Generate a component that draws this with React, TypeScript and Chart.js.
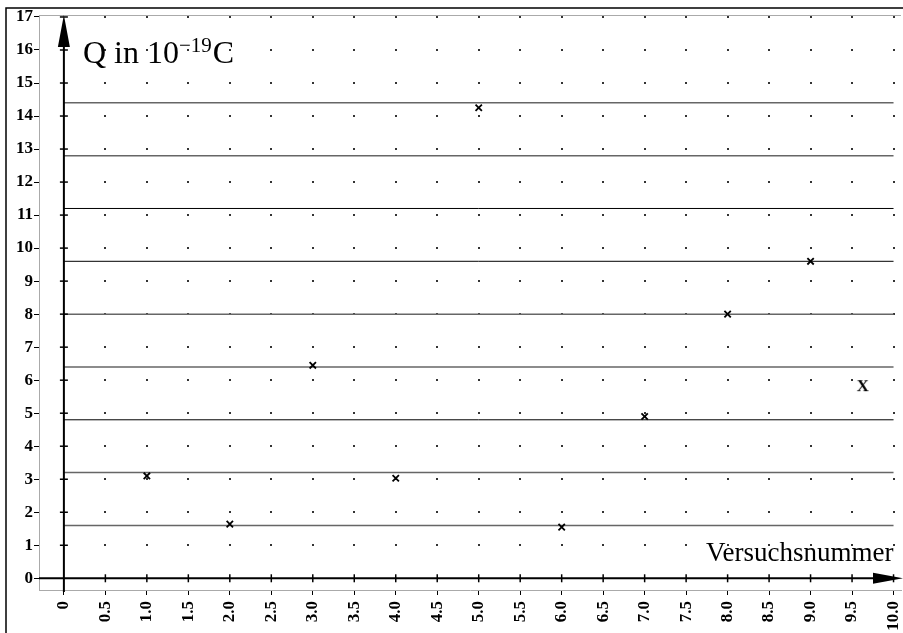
import React, { useEffect, useRef } from 'react';
import { Chart, registerables } from 'chart.js';

Chart.register(...registerables);

// ---- data ----
const trialNumbers = [1, 2, 3, 4, 5, 6, 7, 8, 9];
const chargeValues = [3.1, 1.64, 6.45, 3.03, 14.25, 1.55, 4.9, 8.0, 9.6];
const chargeLevels = [1.6, 3.2, 4.8, 6.4, 8.0, 9.6, 11.2, 12.8, 14.4];
const extraMarkX = [9.63];
const extraMarkY = [5.85];
const xTickValues = [0, 0.5, 1, 1.5, 2, 2.5, 3, 3.5, 4, 4.5, 5, 5.5, 6, 6.5, 7, 7.5, 8, 8.5, 9, 9.5, 10];
const xTickLabels = ['0', '0.5', '1.0', '1.5', '2.0', '2.5', '3.0', '3.5', '4.0', '4.5', '5.0', '5.5', '6.0', '6.5', '7.0', '7.5', '8.0', '8.5', '9.0', '9.5', '10.0'];
const yTickValues = [0, 1, 2, 3, 4, 5, 6, 7, 8, 9, 10, 11, 12, 13, 14, 15, 16, 17];
const yTickLabels = ['0', '1', '2', '3', '4', '5', '6', '7', '8', '9', '10', '11', '12', '13', '14', '15', '16', '17'];
const yTitleParts = ['Q in 10', '\u221219', 'C'];
const xTitle = 'Versuchsnummer';

// ---- styles ----
const levelColors = ['#666', '#666', '#000', '#666', '#666', '#000', '#000', '#666', '#666'];
const levelWidths = [1.5, 1.5, 1, 1.5, 1.5, 1, 1, 1.5, 1.5];
const SERIF = '"Liberation Serif", "Times New Roman", serif';

export default function App() {
  const ref = useRef<HTMLCanvasElement>(null);

  useEffect(() => {
    const canvas = ref.current;
    if (!canvas) return;

    const markCanvas = document.createElement('canvas');
    markCanvas.width = 18;
    markCanvas.height = 18;
    const mctx = markCanvas.getContext('2d')!;
    mctx.font = `bold 17px ${SERIF}`;
    mctx.textAlign = 'center';
    mctx.textBaseline = 'alphabetic';
    mctx.fillStyle = '#000';
    mctx.fillText('X', 9, 15);

    const decor = {
      id: 'decor',
      beforeDraw(chart: any) {
        const ctx = chart.ctx;
        ctx.save();
        ctx.fillStyle = '#fff';
        ctx.fillRect(0, 0, chart.width, chart.height);
        ctx.strokeStyle = '#000';
        ctx.lineWidth = 1.5;
        ctx.beginPath();
        ctx.moveTo(6, chart.height);
        ctx.lineTo(6, 8);
        ctx.lineTo(chart.width, 8);
        ctx.stroke();
        ctx.restore();
      },
      beforeDatasetsDraw(chart: any) {
        const { ctx, chartArea: a, scales } = chart;
        const x = scales.x;
        const y = scales.y;
        ctx.save();
        ctx.strokeStyle = '#aaa';
        ctx.lineWidth = 1;
        ctx.beginPath();
        ctx.moveTo(a.left, a.top + 0.5);
        ctx.lineTo(a.right, a.top + 0.5);
        ctx.stroke();
        ctx.fillStyle = '#333';
        x.ticks.forEach((tx: any) => {
          if (tx.value <= 0) return;
          y.ticks.forEach((ty: any) => {
            if (ty.value <= 0) return;
            const px = x.getPixelForValue(tx.value);
            const py = y.getPixelForValue(ty.value);
            ctx.fillRect(Math.round(px) - 1, Math.round(py) - 1, 2, 2);
          });
        });
        ctx.restore();
      },
      afterDatasetsDraw(chart: any) {
        const { ctx, chartArea: a, scales } = chart;
        const x = scales.x;
        const y = scales.y;
        const x0 = x.getPixelForValue(0);
        const y0 = y.getPixelForValue(0);
        ctx.save();
        ctx.strokeStyle = '#000';
        ctx.fillStyle = '#000';
        ctx.lineWidth = 2;
        // y axis
        ctx.beginPath();
        ctx.moveTo(x0, a.bottom + 2);
        ctx.lineTo(x0, a.top + 10);
        ctx.stroke();
        ctx.beginPath();
        ctx.moveTo(x0, a.top);
        ctx.lineTo(x0 - 6, a.top + 32);
        ctx.lineTo(x0 + 6, a.top + 32);
        ctx.closePath();
        ctx.fill();
        // x axis
        ctx.beginPath();
        ctx.moveTo(a.left, y0);
        ctx.lineTo(chart.width - 10, y0);
        ctx.stroke();
        ctx.beginPath();
        ctx.moveTo(chart.width, y0);
        ctx.lineTo(chart.width - 30, y0 - 5.5);
        ctx.lineTo(chart.width - 30, y0 + 5.5);
        ctx.closePath();
        ctx.fill();
        // cross ticks
        ctx.lineWidth = 1.5;
        y.ticks.forEach((t: any) => {
          if (t.value <= 0) return;
          const py = y.getPixelForValue(t.value);
          ctx.beginPath();
          ctx.moveTo(x0 - 4, py);
          ctx.lineTo(x0 + 4, py);
          ctx.stroke();
        });
        x.ticks.forEach((t: any) => {
          if (t.value <= 0) return;
          const px = x.getPixelForValue(t.value);
          ctx.beginPath();
          ctx.moveTo(px, y0 - 4);
          ctx.lineTo(px, y0 + 4);
          ctx.stroke();
        });
        // titles
        ctx.textBaseline = 'alphabetic';
        ctx.textAlign = 'left';
        let tx = x.getPixelForValue(0.23);
        const ty = y.getPixelForValue(15.6);
        ctx.font = `32px ${SERIF}`;
        ctx.fillText(yTitleParts[0], tx, ty);
        tx += ctx.measureText(yTitleParts[0]).width;
        ctx.font = `21px ${SERIF}`;
        ctx.fillText(yTitleParts[1], tx, ty - 11);
        tx += ctx.measureText(yTitleParts[1]).width + 1;
        ctx.font = `32px ${SERIF}`;
        ctx.fillText(yTitleParts[2], tx, ty);
        ctx.textAlign = 'right';
        ctx.font = `27px ${SERIF}`;
        ctx.fillText(xTitle, x.getPixelForValue(10), y.getPixelForValue(0.53));
        ctx.restore();
      },
    };

    const levelDatasets = chargeLevels.map((v, i) => ({
      type: 'scatter' as const,
      data: [{ x: 0, y: v }, { x: 10, y: v }],
      showLine: true,
      borderColor: levelColors[i],
      borderWidth: levelWidths[i],
      pointRadius: 0,
      order: 2,
    }));

    const chart = new Chart(canvas, {
      type: 'scatter',
      data: {
        datasets: [
          ...levelDatasets,
          {
            type: 'scatter',
            data: trialNumbers.map((t, i) => ({ x: t, y: chargeValues[i] })),
            pointStyle: 'crossRot',
            pointRadius: 4.5,
            borderColor: '#000',
            backgroundColor: '#000',
            borderWidth: 1.8,
            order: 1,
          },
          {
            type: 'scatter',
            data: extraMarkX.map((t, i) => ({ x: t, y: extraMarkY[i] })),
            pointStyle: markCanvas,
            pointRadius: 9,
            order: 1,
          },
        ] as any,
      },
      options: {
        responsive: false,
        animation: false,
        devicePixelRatio: 1,
        layout: { autoPadding: false, padding: { top: 15, right: 2, left: 0, bottom: 0 } },
        plugins: { legend: { display: false }, tooltip: { enabled: false } },
        events: [],
        scales: {
          x: {
            type: 'linear',
            min: -0.3,
            max: 10.09,
            afterBuildTicks: (s: any) => {
              s.ticks = xTickValues.map((v) => ({ value: v }));
            },
            afterFit: (s: any) => {
              s.height = 43;
              s.paddingLeft = 0;
              s.paddingRight = 0;
            },
            ticks: {
              autoSkip: false,
              minRotation: 90,
              maxRotation: 90,
              padding: 6,
              color: '#000',
              font: { family: SERIF, size: 17, weight: 'bold' },
              callback: (_v: any, i: number) => xTickLabels[i],
            },
            grid: { drawOnChartArea: false, drawTicks: true, tickLength: 5, color: '#000' },
            border: { color: '#aaa', width: 1 },
          },
          y: {
            type: 'linear',
            min: -0.355,
            max: 17.06,
            afterBuildTicks: (s: any) => {
              s.ticks = yTickValues.map((v) => ({ value: v }));
            },
            afterFit: (s: any) => {
              s.width = 39;
              s.paddingTop = 0;
              s.paddingBottom = 0;
            },
            ticks: {
              autoSkip: false,
              padding: 1,
              color: '#000',
              font: { family: SERIF, size: 17, weight: 'bold' },
              callback: (_v: any, i: number) => yTickLabels[i],
            },
            grid: { drawOnChartArea: false, drawTicks: true, tickLength: 5, color: '#000' },
            border: { color: '#aaa', width: 1 },
          },
        },
      } as any,
      plugins: [decor],
    });

    return () => chart.destroy();
  }, []);

  return (
    <div style={{ position: 'absolute', left: 0, top: 0, width: 903, height: 633, background: '#fff' }}>
      <canvas ref={ref} width={903} height={633} style={{ display: 'block' }} />
    </div>
  );
}
